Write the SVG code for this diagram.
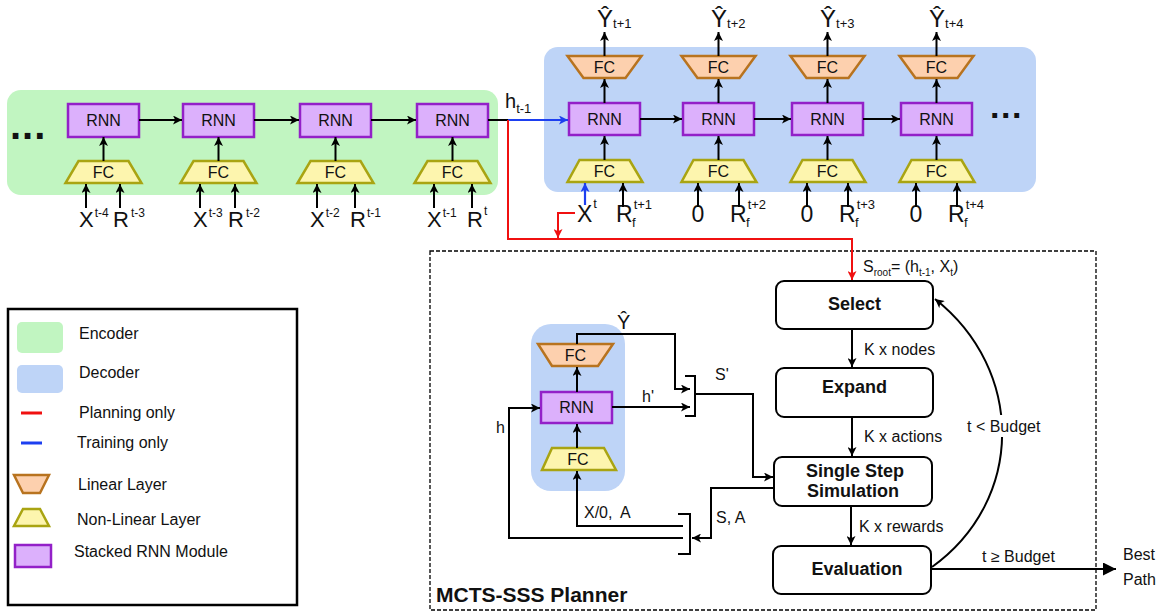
<svg xmlns="http://www.w3.org/2000/svg" width="1162" height="615" viewBox="0 0 1162 615">
<style>
text{font-family:"Liberation Sans",Arial,sans-serif;fill:#111}
.rnn{fill:#dcb0fc;stroke:#9320c8;stroke-width:2.5}
.nl{fill:#fdf5ae;stroke:#a9a412;stroke-width:2.5}
.lin{fill:#fdd0ae;stroke:#b8731f;stroke-width:2.5}
.t16{font-size:16px}
.big{font-size:23px}
.ex{font-size:22px}
.sm{font-size:13px}
.xs{font-size:12px}
.ctr{text-anchor:middle}
.b{font-weight:bold}
.ln{fill:none;stroke:#000;stroke-width:2}
.blue{fill:none;stroke:#1d3ff0;stroke-width:2.2}
.red{fill:none;stroke:#f01010;stroke-width:2}
.box{fill:#fff;stroke:#000;stroke-width:2}
</style>
<defs>
<marker id="ak" viewBox="0 0 10 10" refX="10" refY="5" markerWidth="10" markerHeight="9" orient="auto" markerUnits="userSpaceOnUse"><path d="M0,0 L10,5 L0,10 L2.5,5 z" fill="#000"/></marker>
<marker id="akL" viewBox="0 0 10 10" refX="10" refY="5" markerWidth="13" markerHeight="13" orient="auto" markerUnits="userSpaceOnUse"><path d="M0,0 L10,5 L0,10 z" fill="#000"/></marker>
<marker id="ab" viewBox="0 0 10 10" refX="10" refY="5" markerWidth="10" markerHeight="9" orient="auto" markerUnits="userSpaceOnUse"><path d="M0,0 L10,5 L0,10 L2.5,5 z" fill="#1d3ff0"/></marker>
<marker id="ar" viewBox="0 0 10 10" refX="10" refY="5" markerWidth="10" markerHeight="9" orient="auto" markerUnits="userSpaceOnUse"><path d="M0,0 L10,5 L0,10 L2.5,5 z" fill="#f01010"/></marker>
</defs>

<g id="encoder">
<rect x="7" y="90" width="491" height="105" rx="14" fill="#c1f5c1"/>
<text x="10" y="139" class="b" style="font-size:40px;letter-spacing:1px">...</text>
</g>
<g id="decoder">
<rect x="544" y="47" width="492" height="145" rx="14" fill="#bed4f7"/>
<text x="990" y="118" class="b" style="font-size:34px;letter-spacing:1.5px">...</text>
</g>

<g id="enc1">
<rect class="rnn" x="68" y="104" width="71" height="33"/><text class="t16 ctr" x="103.5" y="126">RNN</text>
<path class="nl" d="M78.5,161 H128.5 L141.5,183 H65.5 Z"/><text class="t16 ctr" x="103.5" y="178">FC</text>
</g>
<g id="enc2">
<rect class="rnn" x="183" y="104" width="71" height="33"/><text class="t16 ctr" x="218.5" y="126">RNN</text>
<path class="nl" d="M193.5,161 H243.5 L256.5,183 H180.5 Z"/><text class="t16 ctr" x="218.5" y="178">FC</text>
</g>
<g id="enc3">
<rect class="rnn" x="300" y="104" width="71" height="33"/><text class="t16 ctr" x="335.5" y="126">RNN</text>
<path class="nl" d="M310.5,161 H360.5 L373.5,183 H297.5 Z"/><text class="t16 ctr" x="335.5" y="178">FC</text>
</g>
<g id="enc4">
<rect class="rnn" x="417" y="104" width="71" height="33"/><text class="t16 ctr" x="452.5" y="126">RNN</text>
<path class="nl" d="M427.5,161 H477.5 L490.5,183 H414.5 Z"/><text class="t16 ctr" x="452.5" y="178">FC</text>
</g>

<g id="enc-labels">
<text class="ex" x="79" y="227">X<tspan class="xs" dy="-10" dx="1">t-4</tspan></text>
<text class="ex" x="113" y="227">R<tspan class="xs" dy="-10" dx="2">t-3</tspan></text>
<text class="ex" x="193" y="227">X<tspan class="xs" dy="-10" dx="1">t-3</tspan></text>
<text class="ex" x="228" y="227">R<tspan class="xs" dy="-10" dx="2">t-2</tspan></text>
<text class="ex" x="310" y="227">X<tspan class="xs" dy="-10" dx="1">t-2</tspan></text>
<text class="ex" x="350" y="227">R<tspan class="xs" dy="-10" dx="1">t-1</tspan></text>
<text class="ex" x="427" y="227">X<tspan class="xs" dy="-10" dx="1">t-1</tspan></text>
<text class="ex" x="467" y="227">R<tspan class="xs" dy="-12" dx="1">t</tspan></text>
<text x="505" y="108" style="font-size:20px">h<tspan class="sm" dy="5">t-1</tspan></text>
</g>

<g id="dec1">
<path class="lin" d="M567.5,56 H641.5 L625.5,78 H583.5 Z"/><text class="t16 ctr" x="604.5" y="73">FC</text>
<rect class="rnn" x="569" y="103" width="71" height="32"/><text class="t16 ctr" x="604.5" y="125">RNN</text>
<path class="nl" d="M579.5,160 H629.5 L642.5,182 H567.5 Z"/><text class="t16 ctr" x="604.5" y="177">FC</text>
</g>
<g id="dec2">
<path class="lin" d="M681.5,56 H755.5 L739.5,78 H697.5 Z"/><text class="t16 ctr" x="718.5" y="73">FC</text>
<rect class="rnn" x="683" y="103" width="71" height="32"/><text class="t16 ctr" x="718.5" y="125">RNN</text>
<path class="nl" d="M693.5,160 H743.5 L756.5,182 H681.5 Z"/><text class="t16 ctr" x="718.5" y="177">FC</text>
</g>
<g id="dec3">
<path class="lin" d="M790.5,56 H864.5 L848.5,78 H806.5 Z"/><text class="t16 ctr" x="827.5" y="73">FC</text>
<rect class="rnn" x="792" y="103" width="71" height="32"/><text class="t16 ctr" x="827.5" y="125">RNN</text>
<path class="nl" d="M802.5,160 H852.5 L865.5,182 H790.5 Z"/><text class="t16 ctr" x="827.5" y="177">FC</text>
</g>
<g id="dec4">
<path class="lin" d="M899.5,56 H973.5 L957.5,78 H915.5 Z"/><text class="t16 ctr" x="936.5" y="73">FC</text>
<rect class="rnn" x="901" y="103" width="71" height="32"/><text class="t16 ctr" x="936.5" y="125">RNN</text>
<path class="nl" d="M911.5,160 H961.5 L974.5,182 H899.5 Z"/><text class="t16 ctr" x="936.5" y="177">FC</text>
</g>

<g id="dec-labels">
<text x="597" y="27" style="font-size:24px">Ŷ<tspan class="sm" dy="1">t+1</tspan></text>
<text x="711" y="27" style="font-size:24px">Ŷ<tspan class="sm" dy="1">t+2</tspan></text>
<text x="820" y="27" style="font-size:24px">Ŷ<tspan class="sm" dy="1">t+3</tspan></text>
<text x="929" y="27" style="font-size:24px">Ŷ<tspan class="sm" dy="1">t+4</tspan></text>
<text class="big" x="577" y="222">X<tspan class="sm" dy="-14" dx="1">t</tspan></text>
<text class="big" x="616" y="222">R<tspan class="sm" dy="-13" dx="1">t+1</tspan><tspan class="sm" dx="-20" dy="18">f</tspan></text>
<text class="big ctr" x="698" y="222">0</text>
<text class="big" x="730" y="222">R<tspan class="sm" dy="-13" dx="1">t+2</tspan><tspan class="sm" dx="-20" dy="18">f</tspan></text>
<text class="big ctr" x="807" y="222">0</text>
<text class="big" x="839" y="222">R<tspan class="sm" dy="-13" dx="1">t+3</tspan><tspan class="sm" dx="-20" dy="18">f</tspan></text>
<text class="big ctr" x="916" y="222">0</text>
<text class="big" x="948" y="222">R<tspan class="sm" dy="-13" dx="1">t+4</tspan><tspan class="sm" dx="-20" dy="18">f</tspan></text>
</g>

<g id="legend">
<rect x="8" y="309" width="289" height="296" fill="#fff" stroke="#000" stroke-width="2.5"/>
<rect x="17" y="322" width="46" height="31" rx="5" fill="#c1f5c1"/>
<text class="t16" x="79" y="339">Encoder</text>
<rect x="17" y="365" width="46" height="28" rx="5" fill="#bed4f7"/>
<text class="t16" x="79" y="378">Decoder</text>
<line x1="21" y1="413" x2="42" y2="413" stroke="#f01010" stroke-width="3"/>
<text class="t16" x="79" y="418">Planning only</text>
<line x1="21" y1="443" x2="42" y2="443" stroke="#1d3ff0" stroke-width="3"/>
<text class="t16" x="77" y="448">Training only</text>
<path class="lin" d="M14,475 H49 L40,493 H23 Z" stroke-width="2"/>
<text class="t16" x="78" y="490">Linear Layer</text>
<path class="nl" d="M23,509 H40 L49,526 H14 Z" stroke-width="2"/>
<text class="t16" x="77" y="525">Non-Linear Layer</text>
<rect class="rnn" x="15" y="545" width="36" height="22" stroke-width="2"/>
<text class="t16" x="74" y="557">Stacked RNN Module</text>
</g>

<g id="planner">
<rect x="430" y="251" width="666" height="359" fill="none" stroke="#000" stroke-width="1.3" stroke-dasharray="4 2"/>
<text x="436" y="602" class="b" style="font-size:21px">MCTS-SSS Planner</text>
</g>
<g id="sim-net">
<rect x="531" y="324" width="94" height="167" rx="20" fill="#bed4f7"/>
<path class="lin" d="M538,344 H613 L598,366 H552 Z"/><text class="t16 ctr" x="575.5" y="361">FC</text>
<rect class="rnn" x="541" y="392" width="71" height="31"/><text class="t16 ctr" x="576.5" y="413">RNN</text>
<path class="nl" d="M552,448 H604 L616,470 H542 Z"/><text class="t16 ctr" x="578" y="465">FC</text>
</g>
<g id="select"><rect class="box" x="776" y="281" width="157" height="48" rx="8"/><text class="b ctr" x="854.5" y="310" style="font-size:18px">Select</text></g>
<g id="expand"><rect class="box" x="776" y="368" width="157" height="49" rx="8"/><text class="b ctr" x="854.5" y="393" style="font-size:18px">Expand</text></g>
<g id="sss"><rect class="box" x="774" y="457" width="158" height="49" rx="8"/><text class="b ctr" x="855" y="477" style="font-size:18px">Single Step</text><text class="b ctr" x="853" y="497" style="font-size:18px">Simulation</text></g>
<g id="evaluation"><rect class="box" x="773" y="546" width="158" height="48" rx="8"/><text class="b ctr" x="857" y="575" style="font-size:18px">Evaluation</text></g>

<g id="connectors">
<path class="ln" marker-end="url(#ak)" d="M139,120 H182"/>
<path class="ln" marker-end="url(#ak)" d="M254,120 H299"/>
<path class="ln" marker-end="url(#ak)" d="M371,120 H416"/>
<path class="ln" d="M488,120 H508"/>
<path class="ln" marker-end="url(#ak)" d="M103.5,161 V137"/>
<path class="ln" marker-end="url(#ak)" d="M218.5,161 V137"/>
<path class="ln" marker-end="url(#ak)" d="M335.5,161 V137"/>
<path class="ln" marker-end="url(#ak)" d="M452.5,161 V137"/>
<path class="ln" marker-end="url(#ak)" d="M86,208 V184"/>
<path class="ln" marker-end="url(#ak)" d="M120,208 V184"/>
<path class="ln" marker-end="url(#ak)" d="M200,208 V184"/>
<path class="ln" marker-end="url(#ak)" d="M235,208 V184"/>
<path class="ln" marker-end="url(#ak)" d="M317,208 V184"/>
<path class="ln" marker-end="url(#ak)" d="M355,208 V184"/>
<path class="ln" marker-end="url(#ak)" d="M434,208 V184"/>
<path class="ln" marker-end="url(#ak)" d="M472,208 V184"/>
<path class="blue" marker-end="url(#ab)" d="M508,120 H568"/>
<path class="ln" marker-end="url(#ak)" d="M640,119 H682"/>
<path class="ln" marker-end="url(#ak)" d="M754,119 H791"/>
<path class="ln" marker-end="url(#ak)" d="M863,119 H900"/>
<path class="ln" marker-end="url(#ak)" d="M604.5,160 V136"/>
<path class="ln" marker-end="url(#ak)" d="M718.5,160 V136"/>
<path class="ln" marker-end="url(#ak)" d="M827.5,160 V136"/>
<path class="ln" marker-end="url(#ak)" d="M936.5,160 V136"/>
<path class="ln" marker-end="url(#ak)" d="M604.5,103 V79"/>
<path class="ln" marker-end="url(#ak)" d="M718.5,103 V79"/>
<path class="ln" marker-end="url(#ak)" d="M827.5,103 V79"/>
<path class="ln" marker-end="url(#ak)" d="M936.5,103 V79"/>
<path class="ln" marker-end="url(#ak)" d="M604.5,56 V32"/>
<path class="ln" marker-end="url(#ak)" d="M718.5,56 V32"/>
<path class="ln" marker-end="url(#ak)" d="M827.5,56 V32"/>
<path class="ln" marker-end="url(#ak)" d="M936.5,56 V32"/>
<path class="blue" marker-end="url(#ab)" d="M585,205 V183"/>
<path class="ln" marker-end="url(#ak)" d="M623,207 V183"/>
<path class="ln" marker-end="url(#ak)" d="M698,207 V183"/>
<path class="ln" marker-end="url(#ak)" d="M739,207 V183"/>
<path class="ln" marker-end="url(#ak)" d="M807,207 V183"/>
<path class="ln" marker-end="url(#ak)" d="M848,207 V183"/>
<path class="ln" marker-end="url(#ak)" d="M916,207 V183"/>
<path class="ln" marker-end="url(#ak)" d="M957,207 V183"/>
<path class="red" marker-end="url(#ar)" d="M508,120 V239 H852 V280"/>
<path class="red" marker-end="url(#ar)" d="M575,213 H558 V238"/>
<path class="ln" marker-end="url(#ak)" d="M852,329 V367"/>
<path class="ln" marker-end="url(#ak)" d="M852,417 V456"/>
<path class="ln" marker-end="url(#ak)" d="M851,506 V545"/>
<path class="ln" marker-end="url(#ak)" d="M932,567 C1025,500 1025,370 935,299"/>
<path class="ln" stroke-width="2.5" marker-end="url(#akL)" d="M931,569 H1116"/>
<path class="ln" marker-end="url(#ak)" d="M577,448 V424"/>
<path class="ln" marker-end="url(#ak)" d="M577,392 V367"/>
<path class="ln" marker-end="url(#ak)" d="M577,344 V334 H675 V389 H690"/>
<path class="ln" marker-end="url(#ak)" d="M612,407 H690"/>
<path class="ln" d="M685,376 H695 V416 H685"/>
<path class="ln" marker-end="url(#ak)" d="M695,394 H753 V477 H773"/>
<path class="ln" marker-end="url(#ak)" d="M774,488 H711 V538 H692"/>
<path class="ln" d="M678,514 H690 V554 H678"/>
<path class="ln" marker-end="url(#ak)" d="M683,526 H577 V471"/>
<path class="ln" marker-end="url(#ak)" d="M683,538 H509 V408 H540"/>
</g>

<g id="mcts-labels">
<text class="t16" x="863" y="272">S<tspan style="font-size:10px" dy="4">root</tspan><tspan dy="-4">= (h</tspan><tspan style="font-size:10px" dy="4">t-1</tspan><tspan dy="-4">, X</tspan><tspan style="font-size:10px" dy="4">t</tspan><tspan dy="-4">)</tspan></text>
<text class="t16" x="864" y="355">K x nodes</text>
<text class="t16" x="864" y="442">K x actions</text>
<text class="t16" x="859" y="532">K x rewards</text>
<rect x="964" y="415" width="76" height="22" fill="#fff"/>
<text class="t16" x="967" y="432">t &lt; Budget</text>
<text class="t16" x="982" y="562">t ≥ Budget</text>
<text class="t16" x="1123" y="560">Best</text>
<text class="t16" x="1123" y="585">Path</text>
<text x="617" y="329" style="font-size:20px">Ŷ</text>
<text class="t16" x="715" y="380">S'</text>
<text class="t16" x="642" y="402">h'</text>
<text class="t16" x="496" y="433">h</text>
<text class="t16" x="716" y="523">S, A</text>
<text class="t16" x="584" y="518" style="word-spacing:4px">X/0, A</text>
</g>
</svg>
